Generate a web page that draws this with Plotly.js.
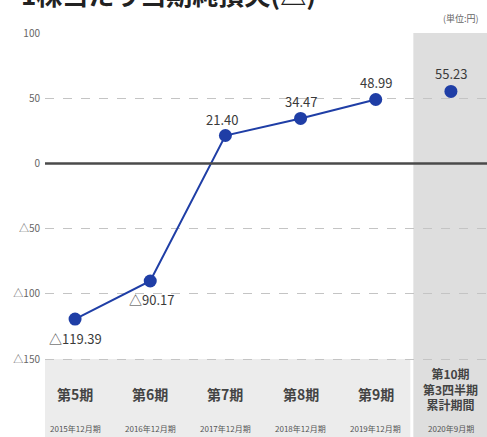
<!DOCTYPE html>
<html>
<head>
<meta charset="utf-8">
<script src="https://cdn.plot.ly/plotly-3.0.1.min.js"></script>
<style>html,body{margin:0;padding:0;background:#fff;}#chart{width:487px;height:437px;}</style>
</head>
<body>
<div id="chart"></div>
<script>
const periods = ['第5期', '第6期', '第7期', '第8期', '第9期', '第10期<br>第3四半期<br>累計期間'];
const fiscalEnds = ['2015年12月期', '2016年12月期', '2017年12月期', '2018年12月期', '2019年12月期', '2020年9月期'];
const eps = [-119.39, -90.17, 21.40, 34.47, 48.99, 55.23];
const yTickVals = [100, 50, 0, -50, -100, -150];
const yTickText = ['100', '50', '0', '△50', '△100', '△150'];
const titleText = '1株当たり当期純損失(△)';
const unitText = '(単位:円)';

const fmt = v => (v < 0 ? '△' + Math.abs(v).toFixed(2) : v.toFixed(2));
const idx = periods.map((_, i) => i);
const font = '"Noto Sans CJK JP", "Noto Sans", sans-serif';
const blue = '#1f3ea6';

const lineX = idx.slice(0, 5), lineY = eps.slice(0, 5);
const traces = [
  {
    x: lineX, y: lineY, type: 'scatter', mode: 'lines+markers',
    line: {color: blue, width: 2},
    marker: {color: blue, size: 13},
    hoverinfo: 'none'
  },
  {
    x: [idx[5]], y: [eps[5]], type: 'scatter', mode: 'markers',
    marker: {color: blue, size: 13},
    hoverinfo: 'none'
  }
];

const labelShift = [[0, -19], [1, -19], [-3, 16], [0, 17], [0, 17], [0, 18]];
const annotations = [];
eps.forEach((v, i) => {
  annotations.push({
    x: idx[i], y: v, xref: 'x', yref: 'y', text: fmt(v), showarrow: false,
    xshift: labelShift[i][0], yshift: labelShift[i][1],
    font: {family: font, size: 13, color: '#3a3a3a'}
  });
});
periods.forEach((p, i) => {
  annotations.push({
    x: idx[i], y: i === 5 ? -173 : -177, xref: 'x', yref: 'y', text: '<b>' + p + '</b>', showarrow: false,
    font: {family: font, size: i === 5 ? 12 : 14, color: '#444'}
  });
  annotations.push({
    x: idx[i], y: -203, xref: 'x', yref: 'y', text: fiscalEnds[i], showarrow: false,
    font: {family: font, size: 8, color: '#555'}
  });
});
annotations.push({
  x: 1, y: 1.037, xref: 'paper', yref: 'paper', xanchor: 'right', yanchor: 'middle', xshift: -6,
  text: unitText, showarrow: false, font: {family: font, size: 9, color: '#666'}
});
annotations.push({
  x: 0, y: 1.098, xref: 'paper', yref: 'paper', xanchor: 'left', yanchor: 'middle', xshift: -26,
  text: '<b>' + titleText + '</b>', showarrow: false, font: {family: font, size: 26, color: '#222'}
});

const shapes = [
  {type: 'rect', xref: 'x', yref: 'paper', x0: -0.4, x1: 4.46, y0: 0, y1: 0.193, fillcolor: '#ececec', line: {width: 0}, layer: 'below'},
  {type: 'rect', xref: 'x', yref: 'paper', x0: 4.5, x1: 5.6, y0: 0, y1: 1, fillcolor: '#dedede', line: {width: 0}, layer: 'below'},
  {type: 'line', xref: 'paper', yref: 'y', x0: 0, x1: 1, y0: 0, y1: 0, line: {color: '#4a4a4a', width: 2.5}, layer: 'above'}
];

const layout = {
  width: 487, height: 437,
  margin: {l: 45, r: 0, t: 33, b: 0},
  paper_bgcolor: '#fff', plot_bgcolor: 'rgba(0,0,0,0)',
  showlegend: false,
  xaxis: {range: [-0.4, 5.48], showgrid: false, zeroline: false, showticklabels: false, fixedrange: true},
  yaxis: {
    range: [-209.8, 100], tickvals: yTickVals, ticktext: yTickText,
    showgrid: true, gridcolor: '#c4c4c4', griddash: 'dash', gridwidth: 1,
    zeroline: false, ticks: '', ticklabelstandoff: 4,
    tickfont: {family: font, size: 10, color: '#666'}
  },
  annotations: annotations,
  shapes: shapes
};

Plotly.newPlot('chart', traces, layout, {displayModeBar: false, staticPlot: true});
</script>
</body>
</html>
